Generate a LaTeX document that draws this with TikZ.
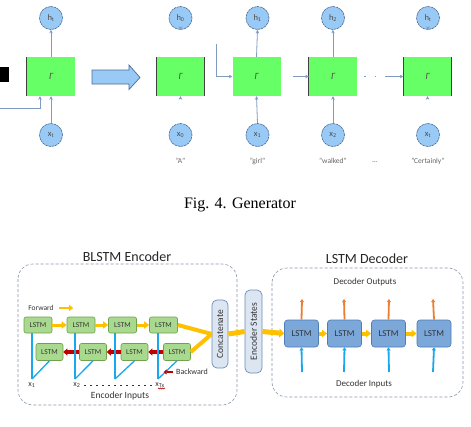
\documentclass[tikz,border=0pt]{standalone}
\usepackage{fontspec}
\setmainfont{Carlito}
\newfontfamily\serifcap{Liberation Serif}
\usetikzlibrary{arrows.meta,calc,decorations.pathmorphing}
\definecolor{gfill}{HTML}{66FF66}
\definecolor{cfill}{HTML}{99C9F5}
\definecolor{cdraw}{HTML}{4A6E9A}
\definecolor{lnk}{HTML}{7F9CC0}
\definecolor{lgfill}{HTML}{A9D98E}
\definecolor{lgdraw}{HTML}{6FA24A}
\definecolor{dbfill}{HTML}{7BA7D9}
\definecolor{dbdraw}{HTML}{4F7DB5}
\definecolor{yel}{HTML}{FFC000}
\definecolor{redd}{HTML}{C00000}
\definecolor{cyanb}{HTML}{1AA7EC}
\definecolor{orng}{HTML}{ED7D31}
\definecolor{catfill}{HTML}{DCE6F2}
\definecolor{catdraw}{HTML}{6E8DB5}
\definecolor{dashc}{HTML}{8A97A8}
\definecolor{txt}{HTML}{333333}
\tikzset{
  gbox/.style={fill=gfill, minimum width=48pt, minimum height=39pt, inner sep=0pt, font=\itshape\fontsize{9.5}{9.5}\selectfont, text=black!70},
  circ/.style={circle, fill=cfill, draw=cdraw, line width=0.6pt, dash pattern=on 2.5pt off 0.7pt, minimum size=23pt, inner sep=0pt, font=\fontsize{8.5}{8.5}\selectfont, text=black!70},
  lnkarr/.style={draw=lnk, line width=0.8pt, -{Stealth[length=3.5pt,width=3.5pt]}},
  darkedge/.style={line width=1.1pt, draw=black!75},
  word/.style={font=\fontsize{7.5}{7.5}\selectfont, text=black!60},
  lstme/.style={rounded corners=2pt, fill=lgfill, draw=lgdraw, line width=0.6pt, minimum width=28pt, minimum height=16pt, inner sep=0pt, font=\fontsize{7.5}{7.5}\selectfont, text=txt},
  lstmd/.style={rounded corners=3pt, fill=dbfill, draw=dbdraw, line width=0.6pt, minimum width=34pt, minimum height=27pt, inner sep=0pt, font=\fontsize{9}{9}\selectfont, text=txt},
  vbox/.style={rotate=90, rounded corners=5pt, fill=catfill, draw=catdraw, line width=0.7pt, inner sep=0pt, font=\fontsize{9.5}{9.5}\selectfont, text=txt},
  dashbox/.style={draw=dashc, line width=0.6pt, dash pattern=on 3pt off 2pt, rounded corners=15pt},
  yarr/.style={draw=yel, line width=3pt, -{Triangle[length=5pt,width=7pt]}},
  yline/.style={draw=yel, line width=4pt},
  rarr/.style={draw=redd, line width=3.5pt, -{Triangle[length=4pt,width=7pt]}},
  blin/.style={draw=cyanb, line width=1.3pt},
  barr/.style={draw=cyanb, line width=1.8pt, -{Triangle[length=3pt,width=4pt]}},
  oarr/.style={draw=orng, line width=1.8pt, -{Triangle[length=3pt,width=4pt]}},
  lab/.style={font=\fontsize{9.5}{9.5}\selectfont, text=txt},
  ttl/.style={font=\fontsize{14}{14}\selectfont, text=black!85},
}
\begin{document}
\begin{tikzpicture}[x=1pt,y=-1pt]
\fill[white] (0,0) rectangle (471,426);
\useasboundingbox (0,0) rectangle (471,426);

% ---------- top: generator ----------
\fill[black] (0,67) rectangle (9,82);
\node[gbox] (g1) at (51,76.5) {Γ};
\node[gbox] (g2) at (180.5,76.5) {Γ};
\node[gbox] (g3) at (256.5,76.5) {Γ};
\node[gbox] (g4) at (333,76.5) {Γ};
\node[gbox] (g5) at (427.5,76.5) {Γ};
\draw[darkedge] (g1.north west) -- (g1.south west);
\draw[darkedge] (g2.north west) -- (g2.south west);
\draw[darkedge] (g2.north east) -- (g2.south east);
\draw[darkedge] (g4.north west) -- (g4.south west);
\draw[darkedge] (g5.north west) -- (g5.south west);
\draw[darkedge] (g5.north east) -- (g5.south east);

\node[circ] (hA) at (51,18) {h\textsubscript{t}};
\node[circ] (xA) at (51,135) {x\textsubscript{t}};
\node[circ] (h0) at (180.5,18) {h\textsubscript{0}};
\node[circ] (x0) at (180.5,135) {x\textsubscript{0}};
\node[circ] (h1) at (257.5,18) {h\textsubscript{1}};
\node[circ] (x1) at (257.5,135) {x\textsubscript{1}};
\node[circ] (h2) at (333,18) {h\textsubscript{2}};
\node[circ] (x2) at (333,135) {x\textsubscript{2}};
\node[circ] (hT) at (428,18) {h\textsubscript{t}};
\node[circ] (xT) at (428,135) {x\textsubscript{t}};

\draw[lnkarr] (g1.north) -- (hA.south);
\draw[lnkarr] (xA.north) -- (g1.south);
\coordinate (rin) at (0,108);
\draw[lnkarr] (rin) -| ([xshift=-11pt]g1.south);

\draw[lnkarr] ([yshift=3pt]h0.south) -- (h0.south);
\draw[lnkarr] ([yshift=-3pt]g2.south) -- (g2.south);
\draw[lnkarr] (g3.north) -- (h1.south);
\draw[lnkarr] (x1.north) -- (g3.south);
\draw[lnkarr] (g4.north) -- (h2.south);
\draw[lnkarr] (x2.north) -- (g4.south);
\draw[lnkarr] ([yshift=3pt]hT.south) -- (hT.south);
\draw[lnkarr] ([yshift=-3pt]g5.south) -- (g5.south);

\coordinate (r2) at (216,44);
\draw[lnkarr] (r2) |- (g3.west);
\draw[lnkarr] ([xshift=12pt]g3.east) -- (g4.west);
\draw[lnk, line width=1pt, dash pattern=on 1.5pt off 9pt] ([xshift=7pt]g4.east) -- ([xshift=32pt]g4.east);
\draw[lnkarr] ([xshift=30pt]g4.east) -- (g5.west);

% big arrow
\draw[fill=cfill, draw=cdraw, line width=0.7pt] (92,70) -- (129,70) -- (129,65) -- (140,77.5) -- (129,89.5) -- (129,84) -- (92,84) -- cycle;

\node[word] at (180.5,161) {"A"};
\node[word] at (257.5,161) {"girl"};
\node[word] at (333,161) {"walked"};
\node[word] at (375,162) {…};
\node[word] at (428,161) {"Certainly"};

\node[font=\serifcap\fontsize{16}{16}\selectfont] (cap) at (240,205) {Fig. 4. Generator};

% ---------- bottom: encoder / decoder ----------
\node[ttl] (te) at (127,257) {BLSTM Encoder};
\node[ttl] (td) at (367,259) {LSTM Decoder};
\draw[dashbox] (18,264) rectangle (237,405);
\draw[dashbox] (272,268) rectangle (463,397);

\node[lstme] (t1) at (38,325) {LSTM};
\node[lstme] (t2) at (81,325) {LSTM};
\node[lstme] (t3) at (122.5,325) {LSTM};
\node[lstme] (t4) at (163.5,325) {LSTM};
\node[lstme, minimum width=27pt, minimum height=17pt] (b1) at (49.5,352) {LSTM};
\node[lstme, minimum width=27pt, minimum height=17pt] (b2) at (93,352) {LSTM};
\node[lstme, minimum width=27pt, minimum height=17pt] (b3) at (134.5,352) {LSTM};
\node[lstme, minimum width=27pt, minimum height=17pt] (b4) at (177,352) {LSTM};

\draw[yarr] (t1.east) -- (t2.west);
\draw[yarr] (t2.east) -- (t3.west);
\draw[yarr] (t3.east) -- (t4.west);
\draw[rarr] (b2.west) -- (b1.east);
\draw[rarr] (b3.west) -- (b2.east);
\draw[rarr] (b4.west) -- (b3.east);

\coordinate (in1) at (32,379);
\coordinate (in2) at (75,379);
\coordinate (in3) at (115,379);
\coordinate (in4) at (158,379);
\foreach \i in {1,2,3,4}{
  \draw[blin] (in\i) -- (in\i |- t\i.south);
  \draw[blin] (in\i) -- (b\i.south);
}

\node[font=\fontsize{8}{8}\selectfont, text=txt] (lx1) at (32,385) {x\textsubscript{1}};
\node[font=\fontsize{8}{8}\selectfont, text=txt] (lx2) at (77,385) {x\textsubscript{2}};
\node[font=\fontsize{8}{8}\selectfont, text=txt] (lxT) at (160,385) {x\textsubscript{Tx}};
\draw[redd, line width=0.5pt, decorate, decoration={zigzag, amplitude=0.6pt, segment length=2pt}] ([xshift=-2pt,yshift=2.5pt]lxT.south) -- ([xshift=5pt,yshift=2.5pt]lxT.south);
\draw[txt, line width=0.7pt, dash pattern=on 1.5pt off 4.5pt] (lx2.east) -- (lxT.west);

\node[font=\fontsize{7.5}{7.5}\selectfont, text=txt] (fwd) at (41,308) {Forward};
\draw[yel, line width=2.5pt, -{Triangle[length=4pt,width=6pt]}] ([xshift=2pt]fwd.east) -- ([xshift=16pt]fwd.east);
\node[font=\fontsize{8}{8}\selectfont, text=txt] (bwd) at (192,372) {Backward};
\draw[redd, line width=2.5pt, -{Triangle[length=3pt,width=5pt]}] (bwd.west) -- ([xshift=-9pt]bwd.west);

\node[lab] (ei) at (120,396) {Encoder Inputs};

\node[vbox, minimum width=68pt, minimum height=16pt] (cat) at (220,334) {Concatenate};
\node[vbox, minimum width=83pt, minimum height=17pt] (es) at (253.5,331.5) {Encoder States};

\draw[yline] (t4.east) -- (cat.north);
\draw[yline] (b4.east) -- (cat.north);
\draw[yel, line width=5pt] (cat.south) -- (es.north);

\node[lstmd] (d1) at (301.5,333.5) {LSTM};
\node[lstmd] (d2) at (344.5,333.5) {LSTM};
\node[lstmd] (d3) at (388.5,333.5) {LSTM};
\node[lstmd] (d4) at (434,333.5) {LSTM};

\draw[yel, line width=5pt, -{Triangle[length=5pt,width=9pt]}] (es.south) -- (d1.west);
\draw[yarr, line width=4pt] (d1.east) -- (d2.west);
\draw[yarr, line width=4pt] (d2.east) -- (d3.west);
\draw[yarr, line width=4pt] (d3.east) -- (d4.west);

\foreach \i/\x in {1/302,2/344,3/389,4/433}{
  \coordinate (o\i) at (\x,299);
  \coordinate (i\i) at (\x,372);
  \draw[oarr] (d\i.north) -- (o\i);
  \draw[barr] (i\i) -- (d\i.south);
}

\node[lab, font=\fontsize{9}{9}\selectfont] (dout) at (365,282) {Decoder Outputs};
\node[lab, font=\fontsize{9}{9}\selectfont] (din) at (364,384) {Decoder Inputs};
\end{tikzpicture}
\end{document}
